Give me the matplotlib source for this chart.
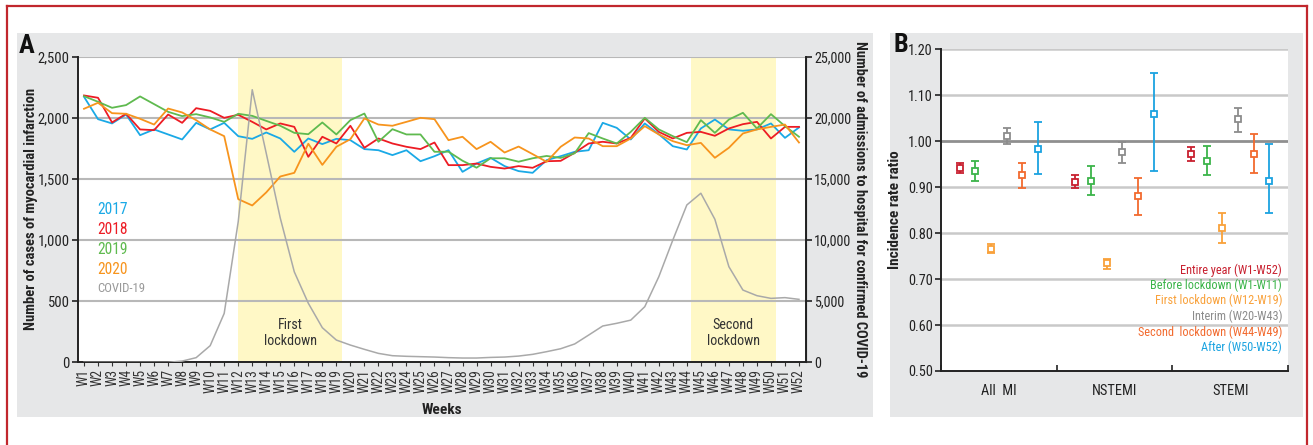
import matplotlib
matplotlib.use("Agg")
import matplotlib.pyplot as plt
from matplotlib import font_manager as fm
from matplotlib.patches import Rectangle
from matplotlib.lines import Line2D
from matplotlib.ticker import FuncFormatter, FixedLocator
import numpy as np

# ---------------- data ----------------
week_labels = [f"W{i}" for i in range(1, 53)]

mi_2017 = [2172, 1989, 1954, 2027, 1858, 1905, 1864, 1823, 1959, 1905,
           1959, 1850, 1828, 1880, 1831, 1722, 1831, 1785, 1828, 1817,
           1744, 1735, 1695, 1735, 1645, 1686, 1735, 1558, 1626, 1673,
           1605, 1564, 1550, 1654, 1686, 1722, 1735, 1959, 1918, 1823,
           1954, 1866, 1768, 1741, 1913, 1986, 1905, 1894, 1905, 1954, 1836, 1921]
mi_2018 = [2183, 2164, 1962, 2033, 1905, 1899, 2027, 1959, 2079, 2057,
           2000, 2025, 1967, 1905, 1954, 1926, 1681, 1845, 1790, 1935,
           1755, 1831, 1790, 1763, 1744, 1798, 1613, 1613, 1626, 1599,
           1585, 1605, 1591, 1645, 1648, 1714, 1790, 1804, 1790, 1836,
           1995, 1885, 1831, 1877, 1885, 1853, 1913, 1948, 1967, 1831, 1926, 1926]
mi_2019 = [2177, 2131, 2082, 2104, 2175, 2112, 2049, 2014, 2030, 2003,
           1967, 2033, 2016, 1975, 1935, 1877, 1866, 1962, 1864, 1981,
           2035, 1804, 1907, 1864, 1864, 1722, 1723, 1649, 1592, 1669,
           1669, 1641, 1669, 1688, 1672, 1710, 1875, 1831, 1790, 1885,
           2000, 1905, 1850, 1801, 1981, 1877, 1986, 2041, 1913, 2030, 1932, 1845]
mi_2020 = [2074, 2123, 2038, 2033, 1992, 1945, 2076, 2044, 1981, 1905,
           1850, 1335, 1283, 1390, 1520, 1550, 1788, 1615, 1763, 1825,
           1995, 1945, 1935, 1967, 2000, 1989, 1817, 1845, 1744, 1804,
           1716, 1765, 1703, 1640, 1763, 1839, 1831, 1768, 1768, 1831,
           1932, 1864, 1809, 1776, 1795, 1673, 1755, 1872, 1905, 1926, 1945, 1798]
covid_admissions = [0, 0, 0, 0, 0, 0, 0, 100, 380, 1360,
                    4000, 11500, 22300, 17100, 11800, 7400, 4830, 2830, 1820, 1410,
                    1060, 730, 540, 490, 460, 430, 380, 350, 350, 400,
                    430, 510, 650, 870, 1110, 1500, 2230, 2970, 3190, 3450,
                    4550, 7000, 10000, 12870, 13830, 11700, 7820, 5910, 5450, 5230, 5290, 5150]

series_names = ["2017", "2018", "2019", "2020"]
series_colors = ["#1aa9e6", "#ed1c24", "#5fba4f", "#f7941d"]
covid_color = "#a9a9a9"

lockdown_spans = [(11.98, 19.38), (44.27, 50.36)]
lockdown_names = ["First\nlockdown", "Second\nlockdown"]

groups = ["All  MI", "NSTEMI", "STEMI"]
periods = ["Entire year (W1-W52)", "Before lockdown (W1-W11)", "First lockdown (W12-W19)",
           "Interim (W20-W43)", "Second  lockdown (W44-W49)", "After (W50-W52)"]
period_colors = ["#c8202f", "#3cb44a", "#f9a13a", "#8c8c8c", "#f26a2e", "#1ba3e0"]
irr_entire = [0.942, 0.912, 0.972]
lo_entire = [0.930, 0.898, 0.957]
hi_entire = [0.953, 0.926, 0.988]
irr_before = [0.936, 0.913, 0.958]
lo_before = [0.913, 0.884, 0.926]
hi_before = [0.958, 0.945, 0.990]
irr_first = [0.765, 0.734, 0.811]
lo_first = [0.756, 0.723, 0.778]
hi_first = [0.776, 0.744, 0.844]
irr_interim = [1.011, 0.977, 1.048]
lo_interim = [0.994, 0.953, 1.021]
hi_interim = [1.028, 0.998, 1.072]
irr_second = [0.926, 0.881, 0.973]
lo_second = [0.898, 0.840, 0.930]
hi_second = [0.953, 0.921, 1.016]
irr_after = [0.984, 1.059, 0.914]
lo_after = [0.929, 0.935, 0.844]
hi_after = [1.042, 1.148, 0.993]


# ---------------- font: prefer a narrow sans ----------------
def choose_font():
    entries = fm.fontManager.ttflist
    names = {e.name for e in entries}
    for fam in ["Liberation Sans Narrow", "Arial Narrow", "Roboto Condensed",
                "Open Sans Condensed", "Noto Sans Condensed", "DejaVu Sans Condensed"]:
        if fam in names:
            return fam, "normal", 1.0
    for fam in ["Noto Sans", "Open Sans", "Roboto", "DejaVu Sans"]:
        for e in entries:
            if e.name == fam and str(e.stretch) in ("condensed", "semi-condensed", "extra-condensed"):
                return fam, "condensed", 1.0
    return "Liberation Sans", "normal", 0.88


FONT, STRETCH, SCALE = choose_font()
plt.rcParams["font.family"] = [FONT, "DejaVu Sans"]
plt.rcParams["font.stretch"] = STRETCH


def fs(v):
    return v * SCALE


# ---------------- figure ----------------
W, H = 1313, 445
fig = plt.figure(figsize=(W / 100, H / 100), dpi=100)
fig.patch.set_facecolor("white")


def rect(x0, y0, x1, y1):
    """pixel box (top-left origin) -> figure fraction rect"""
    return [x0 / W, 1 - y1 / H, (x1 - x0) / W, (y1 - y0) / H]


panel_gray = "#e6e7e8"
for (x0, y0, x1, y1) in [(17, 33, 873, 417), (890, 33, 1303, 417)]:
    r = rect(x0, y0, x1, y1)
    fig.patches.append(Rectangle((r[0], r[1]), r[2], r[3], transform=fig.transFigure,
                                 facecolor=panel_gray, edgecolor="none", zorder=-10))

# outer frame
frame_c = "#c1272d"
for xs, ys in [([6.5, 6.5], [445, 5.5]), ([6.5, 1306.5], [5.5, 5.5]), ([1306.5, 1306.5], [5.5, 445])]:
    fig.add_artist(Line2D([x / W for x in xs], [1 - y / H for y in ys], transform=fig.transFigure,
                          color=frame_c, lw=1.6, zorder=10))

# ---------------- panel A ----------------
ax = fig.add_axes(rect(78, 56.7, 806, 362.3))
ax.set_facecolor("white")
ax2 = ax.twinx()
weeks = np.arange(1, 53)
ax.set_xlim(0.572, 52.5)
ax.set_ylim(0, 2500)
ax2.set_ylim(0, 25000)

for (a, b) in lockdown_spans:
    ax.axvspan(a, b, color="#fff8c6", zorder=0.5, lw=0)
for v in range(500, 2501, 500):
    ax.axhline(v, color="#b8b8b8", lw=1.5, zorder=1)

for vals, c in zip([mi_2017, mi_2018, mi_2019, mi_2020], series_colors):
    ax.plot(weeks, vals, color=c, lw=1.3, zorder=3)
ax2.plot(weeks, covid_admissions, color=covid_color, lw=1.1, zorder=2)

ax.spines["top"].set_visible(False)
ax2.spines["top"].set_visible(False)
for s in ["left", "bottom"]:
    ax.spines[s].set_color("#222222")
    ax.spines[s].set_linewidth(1.4)
ax2.spines["right"].set_color("#222222")
ax2.spines["right"].set_linewidth(1.4)
ax2.spines["left"].set_visible(False)
ax2.spines["bottom"].set_visible(False)

comma = FuncFormatter(lambda v, p: f"{int(v):,}")
ax.yaxis.set_major_locator(FixedLocator(range(0, 2501, 500)))
ax.yaxis.set_major_formatter(comma)
ax2.yaxis.set_major_locator(FixedLocator(range(0, 25001, 5000)))
ax2.yaxis.set_major_formatter(comma)
ax.tick_params(axis="y", direction="out", length=4, width=1.2, labelsize=fs(10.5), pad=2, colors="#222222")
ax2.tick_params(axis="y", direction="out", length=4, width=1.2, labelsize=fs(10.2), pad=2, colors="#222222")
ax.set_xticks(weeks)
ax.set_xticklabels(week_labels, rotation=90, fontsize=fs(9.8), color="#333333")
ax.tick_params(axis="x", direction="out", length=3, width=0.8, pad=2, colors="#333333")

ax.set_zorder(1)
ax2.set_zorder(2)
ax2.patch.set_visible(False)

ax.set_xlabel("Weeks", fontsize=fs(11), fontweight="bold", color="#222222", labelpad=7)
fig.text(31 / W, 1 - 209 / H, "Number of cases of myocardial infarction", rotation=90,
         ha="center", va="center", fontsize=fs(10.5), fontweight="bold", color="#222222")
fig.text(860 / W, 1 - 209 / H, "Number of admissions to hospital for confirmed COVID-19", rotation=270,
         ha="center", va="center", fontsize=fs(10.4), fontweight="bold", color="#222222")
fig.text(27 / W, 1 - 46 / H, "A", ha="center", va="center", fontsize=fs(19), fontweight="bold", color="#111111")

for (a, b), name, xc in zip(lockdown_spans, lockdown_names, [15.7, 47.3]):
    ax.text(xc, 240, name, ha="center", va="center", fontsize=fs(10.2), color="#333333",
            linespacing=1.25, zorder=5)

legend_y = [1246, 1088, 924, 763, 602]
for name, c, yv in zip(series_names + ["COVID-19"], series_colors + ["#999999"], legend_y):
    ax.text(1.93, yv, name, ha="left", va="center", fontsize=fs(11.2) if name != "COVID-19" else fs(9.2),
            color=c, zorder=5)

# ---------------- panel B ----------------
bx = fig.add_axes(rect(941, 49.3, 1288, 371))
bx.set_facecolor("white")
bx.set_xlim(-0.5, 2.5)
bx.set_ylim(0.5, 1.2)
for v in [0.6, 0.7, 0.8, 0.9, 1.1, 1.2]:
    bx.axhline(v, color="#c9c9c9", lw=1.8, zorder=1)
bx.axhline(1.0, color="#8f8f8f", lw=2.0, zorder=1)

irr_sets = [(irr_entire, lo_entire, hi_entire), (irr_before, lo_before, hi_before),
            (irr_first, lo_first, hi_first), (irr_interim, lo_interim, hi_interim),
            (irr_second, lo_second, hi_second), (irr_after, lo_after, hi_after)]
gx = np.arange(len(groups))
for k, ((est, lo, hi), c) in enumerate(zip(irr_sets, period_colors)):
    est, lo, hi = np.array(est), np.array(lo), np.array(hi)
    xs = gx + (k - 2.5) * 0.136
    bx.errorbar(xs, est, yerr=[est - lo, hi - est], fmt="s", ms=5, mfc="white", mec=c, mew=1.3,
                ecolor=c, elinewidth=1.3, capsize=3.2, capthick=1.3, zorder=3)

bx.spines["top"].set_visible(False)
bx.spines["right"].set_visible(False)
for s in ["left", "bottom"]:
    bx.spines[s].set_color("#222222")
    bx.spines[s].set_linewidth(1.4)
bx.set_yticks([0.5, 0.6, 0.7, 0.8, 0.9, 1.0, 1.1, 1.2])
bx.set_yticklabels([f"{v:.2f}" for v in [0.5, 0.6, 0.7, 0.8, 0.9, 1.0, 1.1, 1.2]])
bx.tick_params(axis="y", direction="out", length=4, width=1.2, labelsize=fs(10.3), pad=2, colors="#222222")
bx.set_xticks([-0.5, 0.5, 1.5, 2.5])
bx.set_xticklabels([])
bx.tick_params(axis="x", direction="in", length=4, width=1.2, colors="#222222")
for i, g in enumerate(groups):
    bx.text(i, -0.04, g, transform=bx.get_xaxis_transform(), ha="center", va="top",
            fontsize=fs(10.4), color="#222222")
bx.set_ylabel("Incidence rate ratio", fontsize=fs(11), fontweight="bold", color="#222222", labelpad=4)
fig.text(901 / W, 1 - 45 / H, "B", ha="center", va="center", fontsize=fs(19), fontweight="bold", color="#111111")

legend_b_y = [0.720, 0.686, 0.653, 0.619, 0.585, 0.551]
for name, c, yv in zip(periods, period_colors, legend_b_y):
    bx.text(0.983, yv, name, transform=bx.get_yaxis_transform(), ha="right", va="center",
            fontsize=fs(8.8), color=c, zorder=5)

fig.savefig("out.png", dpi=100)
